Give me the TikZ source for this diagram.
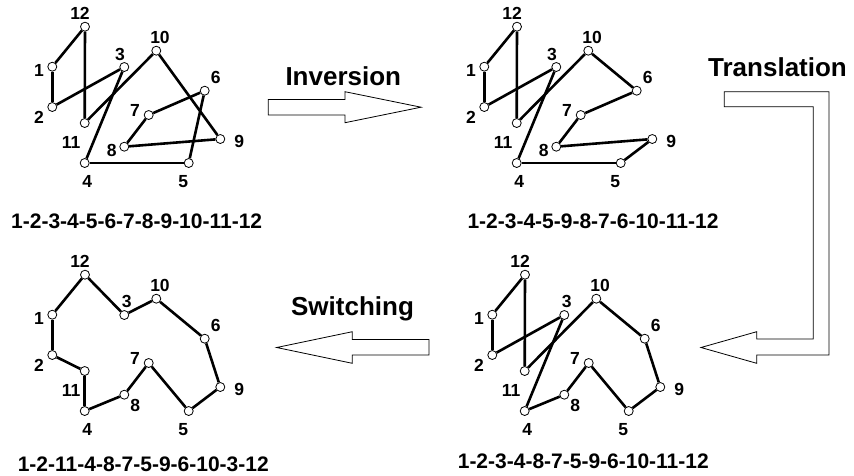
\documentclass[tikz,border=0pt]{standalone}
\usepackage{fontspec}
\setmainfont{Liberation Sans}
\usetikzlibrary{calc}
\begin{document}
\begin{tikzpicture}[x=1pt,y=-1pt,
  vertex/.style={circle,draw,fill=white,line width=0.8pt,minimum size=9pt,inner sep=0pt},
  vlabel/.style={font=\fontsize{17.5}{17.5}\selectfont\bfseries,inner sep=0pt,text depth=0pt,anchor=center},
  seqlabel/.style={font=\fontsize{21}{21}\selectfont\bfseries,inner sep=0pt,anchor=base},
  oplabel/.style={font=\fontsize{26}{26}\selectfont\bfseries,inner sep=0pt,anchor=base},
  tour/.style={line width=2.6pt},
  blockarrow/.style={draw,fill=white,line width=0.8pt,line join=miter}]

\useasboundingbox (0,0) rectangle (854,475);

% One panel: twelve cities at fixed places, their labels and a closed tour.
% #1 prefix, #2/#3 panel offset, #4/#5 offset of label 3, #6/#7 offset of label 8, #8 tour edges
\newcommand\tourpanel[8]{%
  \begin{scope}[shift={(#2,#3)}]
    \foreach \n/\px/\py in {1/52.3/66.7, 2/52.3/107, 3/124.3/67, 4/84.7/163,
        5/188.7/163, 6/204.7/90.7, 7/148.7/115, 8/124.3/146.7, 9/220.3/139,
        10/156.3/50.7, 11/84.7/123, 12/85/26.7}
      \node[vertex] (#1\n) at (\px,\py) {};
    \foreach \n/\lx/\ly in {1/-13.3/3.3, 2/-13.3/10.7, 3/#4/#5, 4/2.6/18.7,
        5/-5.4/18.7, 6/11/-13, 7/-13.7/-5, 8/#6/#7, 9/19/2.7,
        10/3.7/-13, 11/-13.7/19.7, 12/-5/-13.4}
      \node[vlabel] (#1l\n) at ($(#1\n)+(\lx,\ly)$) {\n};
  \end{scope}
  \foreach \a/\b in {#8}
    \draw[tour] (#1\a) -- (#1\b);
}

\tourpanel{A}{0}{0}{-4.3}{-13}{-12.6}{3.3}
  {1/2,2/3,3/4,4/5,5/6,6/7,7/8,8/9,9/10,10/11,11/12,12/1}
\tourpanel{B}{432}{0}{-4.3}{-13}{-12.6}{3.3}
  {1/2,2/3,3/4,4/5,5/9,9/8,8/7,7/6,6/10,10/11,11/12,12/1}
\tourpanel{C}{0}{248}{2.4}{-14}{11}{11}
  {1/2,2/11,11/4,4/8,8/7,7/5,5/9,9/6,6/10,10/3,3/12,12/1}
\tourpanel{D}{440}{248}{2.4}{-14}{11}{11}
  {1/2,2/3,3/4,4/8,8/7,7/5,5/9,9/6,6/10,10/11,11/12,12/1}

% tour sequences
\node[seqlabel] (seqA) at (136.7,228.3) {1-2-3-4-5-6-7-8-9-10-11-12};
\node[seqlabel] (seqB) at (593,228.3) {1-2-3-4-5-9-8-7-6-10-11-12};
\node[seqlabel] (seqC) at (143.3,471.3) {1-2-11-4-8-7-5-9-6-10-3-12};
\node[seqlabel] (seqD) at (583.3,468.3) {1-2-3-4-8-7-5-9-6-10-11-12};

% operator names
\node[oplabel] (inv) at (343.3,85) {Inversion};
\node[oplabel] (trans) at (777.5,76.7) {Translation};
\node[oplabel] (swit) at (352.5,315.5) {Switching};

% block arrows between panels
\draw[blockarrow] (268.3,99.4) -- (345,99.4) -- (345,91.7) -- (421,107.2)
  -- (345,122.7) -- (345,115) -- (268.3,115) -- cycle;
\draw[blockarrow] (724.3,91.7) -- (829,91.7) -- (829,355) -- (756.7,355)
  -- (756.7,363.3) -- (701,347.5) -- (756.7,331.7) -- (756.7,339)
  -- (813.3,339) -- (813.3,106.7) -- (724.3,106.7) -- cycle;
\draw[blockarrow] (429,339.5) -- (352.3,339.5) -- (352.3,331.7) -- (276.7,347.5)
  -- (352.3,363.3) -- (352.3,355) -- (429,355) -- cycle;
\end{tikzpicture}
\end{document}
